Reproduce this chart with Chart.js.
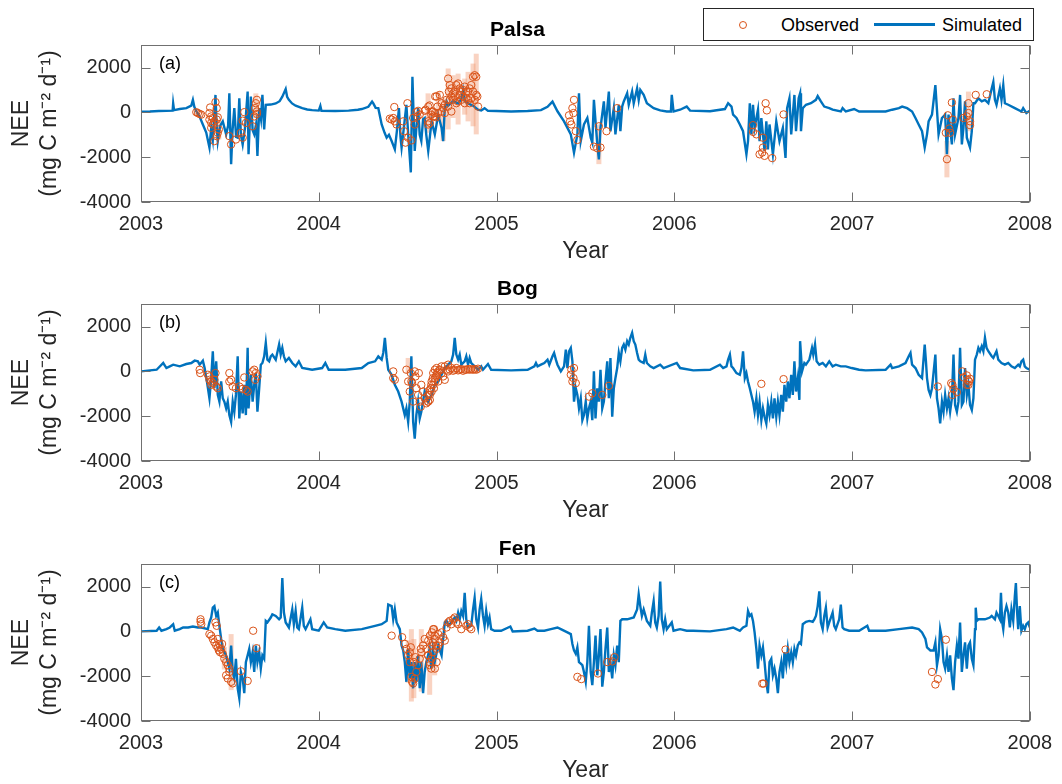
<!DOCTYPE html>
<html>
<head>
<meta charset="utf-8">
<script src="https://cdn.jsdelivr.net/npm/chart.js@4.4.1/dist/chart.umd.min.js"></script>
<style>
html,body{margin:0;padding:0;background:#fff;overflow:hidden;width:1062px;height:784px;}
canvas{position:absolute;left:0;}
#legend{position:absolute;left:703px;top:8px;width:329px;height:31px;border:1px solid #262626;background:#fff;z-index:5;
  font-family:"Liberation Sans",Arial,Helvetica,sans-serif;font-size:18px;color:#000;}
#legend span{position:absolute;top:5px;line-height:22px;}
#legend .mk{position:absolute;left:35px;top:12px;width:6px;height:6px;border:1px solid #D95319;border-radius:50%;}
#legend .ln{position:absolute;left:170px;top:14px;width:61px;height:2.5px;background:#0072BD;}
</style>
</head>
<body>
<canvas id="cA" width="1062" height="265" style="top:0px"></canvas>
<canvas id="cB" width="1062" height="265" style="top:259px"></canvas>
<canvas id="cC" width="1062" height="265" style="top:519px"></canvas>
<div id="legend"><div class="mk"></div><span style="left:77px">Observed</span><div class="ln"></div><span style="left:238px">Simulated</span></div>
<script>
// ---------- axes / labels ----------
const yearTicks = [2003, 2004, 2005, 2006, 2007, 2008];
const neeTicks = [-4000, -2000, 0, 2000];
const panelTitles = ['Palsa', 'Bog', 'Fen'];
const panelLetters = ['(a)', '(b)', '(c)'];

// ---------- Palsa ----------
const palsaSimulated = [[2003.000,30],[2003.050,40],[2003.100,60],[2003.143,70],[2003.178,80],[2003.181,400],[2003.186,100],[2003.218,150],[2003.255,190],[2003.283,300],[2003.292,560],[2003.300,250],[2003.311,50],[2003.330,-200],[2003.348,-540],[2003.367,-900],[2003.385,-1570],[2003.395,-700],[2003.404,-1200],[2003.419,780],[2003.425,-500],[2003.432,-1280],[2003.445,-600],[2003.460,-400],[2003.479,-980],[2003.490,-600],[2003.497,850],[2003.507,-2310],[2003.515,-800],[2003.525,190],[2003.535,-1100],[2003.544,-1130],[2003.553,630],[2003.562,-1000],[2003.572,-1430],[2003.585,-700],[2003.600,930],[2003.605,-1870],[2003.618,710],[2003.628,-800],[2003.637,-980],[2003.648,-500],[2003.655,-1940],[2003.665,190],[2003.675,-300],[2003.683,780],[2003.693,-760],[2003.702,340],[2003.730,350],[2003.758,400],[2003.780,500],[2003.795,700],[2003.814,1040],[2003.822,700],[2003.832,560],[2003.850,400],[2003.870,300],[2003.907,190],[2003.935,130],[2003.963,100],[2004.000,80],[2004.009,290],[2004.015,70],[2004.093,60],[2004.168,80],[2004.220,120],[2004.242,150],[2004.279,250],[2004.300,480],[2004.307,400],[2004.320,200],[2004.335,190],[2004.354,-540],[2004.370,-900],[2004.382,-1130],[2004.395,-1000],[2004.410,-1280],[2004.428,-1650],[2004.440,-800],[2004.451,190],[2004.460,-1100],[2004.466,-1570],[2004.480,-600],[2004.493,340],[2004.505,-1200],[2004.518,-2680],[2004.527,1590],[2004.535,-500],[2004.540,-1720],[2004.550,-600],[2004.559,190],[2004.568,-1000],[2004.577,-1280],[2004.587,-300],[2004.596,-250],[2004.605,-1000],[2004.616,-1720],[2004.635,-400],[2004.653,-980],[2004.672,-100],[2004.691,-690],[2004.700,-1280],[2004.709,190],[2004.719,490],[2004.728,300],[2004.756,500],[2004.784,400],[2004.802,600],[2004.812,1000],[2004.822,500],[2004.840,400],[2004.868,300],[2004.896,120],[2004.914,90],[2004.933,190],[2004.952,70],[2005.000,60],[2005.082,40],[2005.175,60],[2005.250,100],[2005.287,250],[2005.315,480],[2005.343,50],[2005.380,-400],[2005.399,-690],[2005.418,-980],[2005.436,-1800],[2005.455,-980],[2005.464,850],[2005.474,-1280],[2005.492,-540],[2005.511,-250],[2005.530,-1130],[2005.539,-1350],[2005.548,560],[2005.567,-1430],[2005.576,-2100],[2005.585,-690],[2005.604,490],[2005.613,-690],[2005.632,930],[2005.641,-840],[2005.660,190],[2005.669,-980],[2005.688,340],[2005.697,-840],[2005.707,260],[2005.716,490],[2005.735,850],[2005.744,340],[2005.763,930],[2005.772,410],[2005.791,1070],[2005.800,560],[2005.809,1000],[2005.828,780],[2005.846,410],[2005.884,190],[2005.921,90],[2005.958,40],[2005.981,40],[2005.986,780],[2005.996,40],[2006.033,120],[2006.070,260],[2006.089,80],[2006.201,50],[2006.285,150],[2006.303,410],[2006.322,260],[2006.331,-100],[2006.350,-250],[2006.369,-540],[2006.387,-840],[2006.406,-1870],[2006.415,-1280],[2006.425,410],[2006.434,-980],[2006.443,340],[2006.452,-690],[2006.471,120],[2006.480,-1280],[2006.490,-250],[2006.508,-1720],[2006.518,-400],[2006.527,-1650],[2006.536,-540],[2006.555,-1870],[2006.574,-400],[2006.592,-1280],[2006.611,-690],[2006.626,-2030],[2006.635,190],[2006.648,630],[2006.658,-980],[2006.667,-100],[2006.676,780],[2006.685,-840],[2006.700,630],[2006.708,850],[2006.713,-840],[2006.723,190],[2006.741,340],[2006.769,410],[2006.797,560],[2006.807,730],[2006.825,490],[2006.844,260],[2006.872,190],[2006.891,120],[2006.937,40],[2006.947,190],[2006.965,40],[2007.012,150],[2007.040,40],[2007.189,40],[2007.226,120],[2007.264,190],[2007.282,260],[2007.310,190],[2007.338,40],[2007.357,-250],[2007.375,-540],[2007.394,-840],[2007.409,-1570],[2007.422,-980],[2007.431,-400],[2007.450,-100],[2007.469,1220],[2007.487,-980],[2007.506,-250],[2007.524,-100],[2007.534,-1870],[2007.543,-100],[2007.562,-1430],[2007.571,630],[2007.580,-980],[2007.599,-250],[2007.608,780],[2007.618,-1430],[2007.627,-690],[2007.636,490],[2007.646,-1130],[2007.664,-1570],[2007.674,-840],[2007.683,410],[2007.692,410],[2007.711,630],[2007.730,490],[2007.748,560],[2007.767,410],[2007.786,1070],[2007.795,1360],[2007.804,560],[2007.813,340],[2007.832,1070],[2007.841,560],[2007.851,1220],[2007.860,410],[2007.879,340],[2007.916,190],[2007.953,40],[2007.963,190],[2007.981,-30],[2008.000,70]];
const palsaObserved = [[2003.311,10],[2003.320,-30],[2003.330,-70],[2003.339,-100],[2003.385,-30],[2003.395,-180],[2003.385,-320],[2003.395,-470],[2003.404,-250],[2003.413,-400],[2003.426,-320],[2003.432,-220],[2003.419,460],[2003.389,220],[2003.426,190],[2003.395,-690],[2003.404,-540],[2003.432,-910],[2003.438,-760],[2003.426,-1060],[2003.413,-1280],[2003.497,-1060],[2003.507,-1430],[2003.534,-1210],[2003.562,-910],[2003.572,-1130],[2003.581,10],[2003.572,-370],[2003.590,-470],[2003.628,-620],[2003.637,-180],[2003.642,190],[2003.646,410],[2003.652,560],[2003.652,-70],[2003.652,40],
[2004.400,-280],[2004.410,-320],[2004.419,-250],[2004.428,-400],[2004.425,240],[2004.438,-540],[2004.475,-400],[2004.480,-840],[2004.488,-1350],[2004.503,-1130],[2004.521,-1250],[2004.499,410],[2004.531,-250],[2004.540,-540],[2004.549,10],[2004.555,-180],[2004.559,70],[2004.568,-100],[2004.596,70],[2004.601,120],[2004.615,-540],[2004.615,-400],[2004.624,310],[2004.633,-100],[2004.642,40],[2004.652,-180],[2004.655,710],[2004.661,-220],
[2004.616,260],[2004.625,-470],[2004.635,40],[2004.644,-180],[2004.653,-30],[2004.663,710],[2004.668,260],[2004.681,780],[2004.691,410],[2004.700,190],[2004.709,340],[2004.719,560],[2004.728,1510],[2004.732,930],[2004.737,1220],[2004.746,1070],[2004.746,710],[2004.756,560],[2004.765,930],[2004.774,1220],[2004.784,1290],[2004.793,780],[2004.802,930],[2004.802,560],[2004.812,1000],[2004.821,1150],[2004.830,630],[2004.840,930],[2004.849,1070],[2004.849,410],[2004.858,1220],[2004.868,1590],[2004.877,1660],[2004.886,1590],[2004.892,710],[2004.896,260],[2004.877,560],[2004.858,630],[2004.821,410],[2004.784,490],[2004.746,40],[2004.728,260],[2004.709,-30],[2004.765,710],[2004.793,1070],[2004.812,710],[2004.830,930],[2004.840,560],[2004.868,930],[2004.886,780],[2004.774,410],[2004.737,560],[2004.756,850],[2004.691,40],[2004.672,-30],
[2005.408,-130],[2005.414,-400],[2005.421,-540],[2005.427,190],[2005.436,560],[2005.433,-30],[2005.446,-840],[2005.455,-1230],[2005.548,-1530],[2005.567,-1600],[2005.585,-1570],[2005.576,-620],[2005.619,-840],[2005.679,190],
[2006.443,-570],[2006.443,-870],[2006.462,-980],[2006.499,-1130],[2006.514,410],[2006.521,90],[2006.499,-1570],[2006.480,-1870],[2006.495,-1790],[2006.508,-1940],[2006.551,-2040],[2006.615,-90],
[2007.534,-2090],[2007.528,-910],[2007.539,-130],[2007.547,-720],[2007.552,-910],[2007.562,440],[2007.567,-320],[2007.627,-250],[2007.646,-180],[2007.655,410],[2007.655,-30],[2007.664,-400],[2007.664,-570],[2007.696,780],[2007.758,810]];
// [year, upper, lower] of the observation spread
const palsaSpread = [[2003.646,850,-250],[2003.438,-320,-1210],[2004.615,850,-910],[2004.672,930,-400],[2004.700,630,-1280],[2004.728,1960,-760],[2004.756,1660,-250],[2004.784,1730,-540],[2004.821,1510,-100],[2004.840,1810,-400],[2004.868,2180,-620],[2004.886,2620,-980],[2005.576,-540,-2310],[2007.534,-1280,-2900],[2007.655,930,-840]];

// ---------- Bog ----------
const bogSimulated = [[2003.000,0],[2003.088,75],[2003.125,375],[2003.143,150],[2003.162,225],[2003.181,300],[2003.218,225],[2003.255,330],[2003.283,375],[2003.302,480],[2003.320,450],[2003.330,300],[2003.348,480],[2003.358,150],[2003.371,-450],[2003.385,-1200],[2003.395,-300],[2003.404,900],[2003.413,-750],[2003.423,450],[2003.432,-1050],[2003.441,-1350],[2003.451,-450],[2003.460,-1200],[2003.469,-1350],[2003.479,-1650],[2003.488,-1350],[2003.497,-1950],[2003.507,-2250],[2003.516,-1350],[2003.525,-1800],[2003.534,-1050],[2003.544,675],[2003.553,-2100],[2003.562,-900],[2003.572,-1875],[2003.581,-600],[2003.590,-1950],[2003.600,1050],[2003.605,-1650],[2003.618,-150],[2003.628,-1350],[2003.637,-600],[2003.646,-75],[2003.655,-1800],[2003.665,-750],[2003.674,300],[2003.683,375],[2003.693,675],[2003.702,1275],[2003.711,525],[2003.721,450],[2003.730,675],[2003.739,750],[2003.758,525],[2003.777,1200],[2003.786,750],[2003.795,1050],[2003.804,675],[2003.814,450],[2003.832,600],[2003.851,375],[2003.870,225],[2003.888,450],[2003.907,150],[2003.963,75],[2004.019,150],[2004.037,375],[2004.056,75],[2004.149,75],[2004.242,150],[2004.279,375],[2004.317,450],[2004.335,675],[2004.354,525],[2004.363,825],[2004.372,1500],[2004.382,600],[2004.391,75],[2004.410,-150],[2004.428,-600],[2004.447,-900],[2004.466,-1350],[2004.484,-1950],[2004.493,-1650],[2004.503,-2250],[2004.512,-1350],[2004.521,675],[2004.531,-2250],[2004.540,-3000],[2004.549,-1950],[2004.559,-1350],[2004.568,-2100],[2004.577,-1800],[2004.596,-900],[2004.615,-1350],[2004.635,-1050],[2004.653,-600],[2004.672,-450],[2004.691,-150],[2004.709,150],[2004.728,300],[2004.746,450],[2004.756,750],[2004.765,1500],[2004.774,750],[2004.784,525],[2004.793,750],[2004.802,300],[2004.821,450],[2004.830,675],[2004.840,300],[2004.849,600],[2004.858,375],[2004.877,225],[2004.896,75],[2004.914,225],[2004.924,75],[2004.952,330],[2004.970,75],[2005.082,45],[2005.175,75],[2005.213,225],[2005.222,375],[2005.231,225],[2005.250,300],[2005.269,375],[2005.287,525],[2005.297,300],[2005.315,675],[2005.324,825],[2005.334,525],[2005.343,300],[2005.362,0],[2005.380,225],[2005.390,975],[2005.399,150],[2005.408,900],[2005.418,1050],[2005.427,450],[2005.436,-1350],[2005.446,-750],[2005.455,-1050],[2005.464,-1650],[2005.474,-1200],[2005.483,-2175],[2005.492,-1950],[2005.502,-1350],[2005.511,-2100],[2005.520,-1650],[2005.530,-1350],[2005.539,-2175],[2005.548,0],[2005.557,-2100],[2005.567,-750],[2005.576,-1350],[2005.585,75],[2005.595,-1650],[2005.604,-1350],[2005.613,-450],[2005.623,450],[2005.632,-1200],[2005.641,600],[2005.651,-2025],[2005.660,-750],[2005.669,-300],[2005.679,150],[2005.688,825],[2005.697,450],[2005.707,1050],[2005.716,1200],[2005.725,975],[2005.735,1350],[2005.744,1200],[2005.753,1500],[2005.763,1725],[2005.772,1350],[2005.781,1200],[2005.791,825],[2005.800,525],[2005.809,450],[2005.828,375],[2005.837,750],[2005.846,375],[2005.865,225],[2005.884,150],[2005.921,300],[2005.940,150],[2006.014,375],[2006.033,150],[2006.107,45],[2006.201,75],[2006.257,300],[2006.275,150],[2006.294,225],[2006.303,525],[2006.313,750],[2006.322,225],[2006.331,150],[2006.350,-75],[2006.369,-150],[2006.378,150],[2006.387,900],[2006.397,-300],[2006.406,-75],[2006.415,-450],[2006.425,-750],[2006.434,-1050],[2006.443,-1350],[2006.452,-1800],[2006.462,-1200],[2006.471,-1950],[2006.480,-1350],[2006.490,-2175],[2006.499,-1650],[2006.508,-2025],[2006.518,-2325],[2006.527,-1500],[2006.536,-1950],[2006.546,-1350],[2006.555,-2100],[2006.564,-1200],[2006.574,-2025],[2006.583,-1350],[2006.592,-1950],[2006.602,-1050],[2006.611,-1800],[2006.620,-600],[2006.630,-1350],[2006.639,-450],[2006.648,-1200],[2006.658,-150],[2006.667,-1050],[2006.676,450],[2006.685,-900],[2006.695,-300],[2006.704,-1275],[2006.708,1350],[2006.719,0],[2006.732,375],[2006.741,300],[2006.760,525],[2006.775,1050],[2006.782,750],[2006.792,1200],[2006.801,450],[2006.816,300],[2006.835,375],[2006.853,225],[2006.872,450],[2006.891,225],[2006.909,300],[2006.937,225],[2006.965,225],[2006.998,150],[2007.040,75],[2007.077,45],[2007.189,75],[2007.217,300],[2007.226,150],[2007.264,225],[2007.301,375],[2007.319,675],[2007.329,825],[2007.338,300],[2007.357,150],[2007.375,-150],[2007.394,-300],[2007.409,1200],[2007.416,450],[2007.422,-300],[2007.431,-825],[2007.441,-1050],[2007.450,-750],[2007.469,750],[2007.478,-1200],[2007.487,-1650],[2007.496,-2325],[2007.506,-1350],[2007.515,-1800],[2007.524,-1050],[2007.534,-1650],[2007.543,-1200],[2007.552,-1800],[2007.562,-1200],[2007.571,750],[2007.580,-1500],[2007.590,-1800],[2007.599,-1350],[2007.608,1050],[2007.618,-1500],[2007.627,-1350],[2007.636,150],[2007.646,-1050],[2007.655,-600],[2007.664,-1500],[2007.674,-1725],[2007.683,-1200],[2007.692,525],[2007.702,750],[2007.711,1050],[2007.720,900],[2007.730,1125],[2007.739,900],[2007.748,1500],[2007.757,1050],[2007.767,900],[2007.786,675],[2007.795,600],[2007.804,750],[2007.813,900],[2007.823,525],[2007.841,375],[2007.860,300],[2007.879,375],[2007.897,225],[2007.916,150],[2007.935,300],[2007.944,225],[2007.953,450],[2007.963,525],[2007.972,225],[2007.981,150],[2008.000,75]];
const bogObserved = [[2003.330,75],[2003.333,-75],[2003.376,-150],[2003.385,-225],[2003.385,-375],[2003.395,-450],[2003.404,-525],[2003.413,-375],[2003.419,-75],[2003.423,-675],[2003.432,-750],[2003.395,-600],[2003.497,-75],[2003.507,-375],[2003.497,-450],[2003.516,-675],[2003.534,-750],[2003.553,-675],[2003.572,-780],[2003.581,-270],[2003.590,-825],[2003.600,-900],[2003.628,0],[2003.637,75],[2003.646,-75],[2003.655,-225],[2003.642,-375],
[2004.419,0],[2004.419,-300],[2004.428,-375],[2004.493,75],[2004.503,-450],[2004.512,-900],[2004.518,-75],[2004.525,-525],[2004.531,-1350],[2004.540,0],[2004.544,-225],[2004.549,-750],[2004.559,-1050],[2004.568,-1350],[2004.574,-1575],[2004.577,-600],[2004.587,-900],[2004.596,-1200],[2004.605,-1425],[2004.615,-1050],[2004.615,-1350],[2004.624,-825],[2004.633,-600],[2004.642,-300],[2004.648,-750],[2004.655,-450],[2004.661,-225],[2004.666,-75],[2004.521,-450],[2004.563,-75],
[2004.616,-1350],[2004.625,-1050],[2004.631,-750],[2004.635,-450],[2004.644,-75],[2004.644,-600],[2004.653,-300],[2004.653,75],[2004.663,-150],[2004.672,0],[2004.672,-450],[2004.681,75],[2004.691,-75],[2004.700,-225],[2004.709,-375],[2004.719,75],[2004.728,300],[2004.728,0],[2004.737,75],[2004.746,150],[2004.756,30],[2004.765,75],[2004.774,150],[2004.784,45],[2004.793,75],[2004.802,105],[2004.812,30],[2004.821,75],[2004.830,75],[2004.840,105],[2004.849,75],[2004.858,105],[2004.868,75],[2004.877,105],[2004.886,75],[2004.896,120],[2004.635,-900],[2004.625,-1275],[2004.691,225],[2004.663,150],[2004.709,225],
[2005.418,-150],[2005.427,-450],[2005.436,150],[2005.446,-525],[2005.421,75],[2005.433,-300],[2005.520,-1125],[2005.539,-975],[2005.595,-1050],[2005.632,-645],
[2006.490,-555],[2006.615,-345],
[2007.483,-675],[2007.558,-525],[2007.565,-600],[2007.571,-780],[2007.565,-1050],[2007.590,-930],[2007.621,0],[2007.627,-270],[2007.646,-180],[2007.651,-375],[2007.659,-450],[2007.655,-600],[2007.664,-330],[2007.646,-600]];
const bogSpread = [[2004.503,600,-75],[2003.404,100,-300]];

// ---------- Fen ----------
const fenSimulated = [[2003.000,0],[2003.088,30],[2003.102,175],[2003.115,30],[2003.143,100],[2003.162,175],[2003.181,320],[2003.190,30],[2003.218,100],[2003.237,175],[2003.265,175],[2003.292,220],[2003.320,175],[2003.339,175],[2003.376,100],[2003.385,400],[2003.395,620],[2003.404,1060],[2003.413,1130],[2003.423,690],[2003.432,840],[2003.441,250],[2003.451,-340],[2003.460,-780],[2003.479,-1070],[2003.488,-1370],[2003.497,-1660],[2003.507,-630],[2003.516,-1810],[2003.525,-2100],[2003.534,-1220],[2003.544,-2540],[2003.553,-2980],[2003.562,-1810],[2003.572,-2100],[2003.581,-2760],[2003.590,-1370],[2003.600,-1070],[2003.609,-780],[2003.618,-1370],[2003.628,-930],[2003.637,-1810],[2003.646,-630],[2003.655,-1370],[2003.665,-930],[2003.674,-1660],[2003.683,-1070],[2003.693,-1220],[2003.702,470],[2003.711,400],[2003.730,620],[2003.739,760],[2003.758,690],[2003.777,540],[2003.786,620],[2003.795,2380],[2003.804,840],[2003.814,400],[2003.832,175],[2003.851,980],[2003.860,320],[2003.870,910],[2003.879,175],[2003.888,100],[2003.907,1060],[2003.916,250],[2003.926,100],[2003.953,540],[2003.963,100],[2004.000,30],[2004.028,400],[2004.047,175],[2004.093,100],[2004.149,30],[2004.242,100],[2004.317,250],[2004.354,320],[2004.382,470],[2004.391,1200],[2004.410,1130],[2004.419,540],[2004.428,980],[2004.438,400],[2004.456,100],[2004.466,-630],[2004.475,-850],[2004.484,-1370],[2004.493,-2250],[2004.503,-780],[2004.512,-2100],[2004.521,-1370],[2004.531,-2540],[2004.540,-1370],[2004.549,-2250],[2004.559,-1070],[2004.568,-2540],[2004.577,-1370],[2004.587,-2760],[2004.596,-1810],[2004.605,-1370],[2004.615,-1070],[2004.624,-780],[2004.633,-1660],[2004.642,-780],[2004.652,-1370],[2004.672,-630],[2004.691,-1070],[2004.709,400],[2004.719,470],[2004.728,250],[2004.746,400],[2004.765,620],[2004.774,470],[2004.784,840],[2004.793,540],[2004.802,910],[2004.812,690],[2004.821,1720],[2004.830,540],[2004.840,175],[2004.858,250],[2004.868,980],[2004.877,1500],[2004.886,540],[2004.896,175],[2004.905,980],[2004.914,1450],[2004.924,690],[2004.933,250],[2004.942,910],[2004.952,320],[2004.961,620],[2004.970,100],[2004.989,30],[2005.026,30],[2005.078,220],[2005.091,0],[2005.175,30],[2005.213,130],[2005.231,30],[2005.269,30],[2005.306,100],[2005.343,175],[2005.362,100],[2005.399,-45],[2005.418,-120],[2005.427,-560],[2005.436,-850],[2005.446,-1000],[2005.455,-710],[2005.464,-1370],[2005.474,-1440],[2005.483,-1510],[2005.492,-1810],[2005.502,-2250],[2005.511,-1370],[2005.520,250],[2005.530,-1810],[2005.539,-2400],[2005.548,-1370],[2005.557,-190],[2005.567,-1960],[2005.576,-1070],[2005.585,100],[2005.595,-2470],[2005.604,-1810],[2005.613,-780],[2005.623,175],[2005.632,-1810],[2005.641,-1370],[2005.651,-2100],[2005.660,-1070],[2005.669,-1510],[2005.679,-630],[2005.688,-1370],[2005.697,470],[2005.707,540],[2005.716,540],[2005.735,540],[2005.772,620],[2005.791,980],[2005.800,1650],[2005.809,1130],[2005.818,690],[2005.828,980],[2005.846,470],[2005.865,250],[2005.874,840],[2005.884,1350],[2005.893,400],[2005.902,175],[2005.912,690],[2005.921,2230],[2005.930,540],[2005.940,100],[2005.949,540],[2005.958,100],[2005.986,400],[2005.996,30],[2006.033,100],[2006.070,30],[2006.107,30],[2006.201,0],[2006.294,100],[2006.331,175],[2006.350,100],[2006.369,30],[2006.387,175],[2006.406,250],[2006.415,910],[2006.425,690],[2006.434,760],[2006.443,470],[2006.452,-45],[2006.462,-780],[2006.471,-1660],[2006.480,-630],[2006.490,-1070],[2006.499,-710],[2006.508,-1370],[2006.518,-2250],[2006.527,-2760],[2006.536,-1370],[2006.546,-1220],[2006.555,-1960],[2006.564,-1660],[2006.574,-2100],[2006.583,-2760],[2006.592,-1810],[2006.602,-1370],[2006.611,-2100],[2006.620,-930],[2006.630,-1510],[2006.639,-780],[2006.648,-1370],[2006.658,-930],[2006.667,-1370],[2006.676,-780],[2006.685,-1070],[2006.695,-630],[2006.704,-490],[2006.713,-560],[2006.723,320],[2006.741,430],[2006.760,470],[2006.779,430],[2006.788,540],[2006.797,690],[2006.807,1130],[2006.816,1790],[2006.825,400],[2006.835,100],[2006.844,690],[2006.853,1060],[2006.863,175],[2006.872,400],[2006.891,840],[2006.900,250],[2006.909,100],[2006.928,540],[2006.937,1200],[2006.947,175],[2006.956,100],[2006.984,30],[2007.040,30],[2007.086,250],[2007.096,30],[2007.189,30],[2007.264,100],[2007.338,175],[2007.375,100],[2007.394,-45],[2007.413,-340],[2007.422,-710],[2007.441,-850],[2007.459,-850],[2007.469,-490],[2007.478,-1510],[2007.487,-1070],[2007.496,100],[2007.506,-340],[2007.515,-1370],[2007.524,-1660],[2007.534,-1070],[2007.543,-1810],[2007.552,-1070],[2007.562,-2100],[2007.571,-2620],[2007.580,-1370],[2007.590,-630],[2007.599,-1220],[2007.608,400],[2007.618,-1810],[2007.627,-1070],[2007.636,-490],[2007.646,-1660],[2007.655,-630],[2007.664,-490],[2007.674,-1220],[2007.683,-1510],[2007.692,100],[2007.696,1060],[2007.702,470],[2007.711,540],[2007.748,540],[2007.776,620],[2007.786,690],[2007.804,540],[2007.813,840],[2007.823,690],[2007.832,540],[2007.838,1720],[2007.845,400],[2007.851,100],[2007.860,840],[2007.869,1130],[2007.879,840],[2007.888,175],[2007.897,980],[2007.907,470],[2007.916,1570],[2007.922,2160],[2007.929,840],[2007.935,100],[2007.944,1130],[2007.953,30],[2007.963,250],[2007.972,100],[2007.981,320],[2007.991,400],[2008.000,175]];
const fenObserved = [[2003.335,540],[2003.335,430],[2003.339,320],[2003.385,-120],[2003.395,-190],[2003.404,-340],[2003.419,400],[2003.426,250],[2003.413,-490],[2003.423,-630],[2003.432,-710],[2003.438,-850],[2003.441,-560],[2003.451,-780],[2003.445,-930],[2003.460,-1000],[2003.469,-1220],[2003.479,-1370],[2003.488,-1510],[2003.497,-1660],[2003.479,-1960],[2003.488,-2100],[2003.507,-2250],[2003.516,-2320],[2003.497,-1810],[2003.562,-1780],[2003.600,-2210],[2003.631,30],[2003.650,-750],[2003.432,-340],[2003.456,-560],
[2004.410,-190],[2004.469,-260],[2004.484,-560],[2004.493,-780],[2004.503,-1070],[2004.512,-1370],[2004.521,-2030],[2004.525,-2250],[2004.531,-2320],[2004.540,-2100],[2004.549,-1810],[2004.559,-1510],[2004.568,-1220],[2004.577,-930],[2004.587,-630],[2004.596,-340],[2004.605,-780],[2004.615,-1070],[2004.624,-1370],[2004.633,-1660],[2004.642,-490],[2004.652,-190],[2004.661,-630],[2004.518,-710],[2004.544,-1150],[2004.574,-780],[2004.535,-1370],[2004.512,-930],[2004.637,-45],[2004.648,100],
[2004.616,-410],[2004.625,-190],[2004.635,-630],[2004.644,100],[2004.653,-340],[2004.663,-780],[2004.672,-120],[2004.681,-490],[2004.691,-45],[2004.700,-260],[2004.709,-410],[2004.719,175],[2004.728,400],[2004.737,470],[2004.746,320],[2004.756,540],[2004.765,620],[2004.774,400],[2004.784,320],[2004.802,100],[2004.830,250],[2004.840,320],[2004.849,175],[2004.858,100],[2004.635,-1220],[2004.625,-1510],[2004.653,-1660],[2004.616,-1070],[2004.644,-930],[2004.672,-630],[2004.663,-1370],
[2005.455,-2030],[2005.477,-2130],[2005.571,-1880],[2005.623,-1370],[2005.651,-1340],[2005.664,-1150],
[2006.495,-2330],[2006.503,-2330],[2006.626,-810],
[2007.450,-1810],[2007.483,-2130],[2007.469,-2370],[2007.528,-370]];
const fenSpread = [[2003.507,-120,-2620],[2003.469,-700,-1700],[2004.521,100,-3130],[2004.535,-340,-2980],[2004.503,-400,-2300],[2004.577,100,-2690],[2004.624,-45,-2830],[2004.652,250,-1960]];

// ---------- drawing ----------
Chart.defaults.font.family = '"Liberation Sans", Arial, Helvetica, sans-serif';
const FRAME = '#707070';
const TXT = '#262626';

const framePlugin = {
  id: 'frame',
  beforeDatasetsDraw(chart, args, o) {
    const {ctx, chartArea: a, scales: {x, y}} = chart;
    ctx.save();
    ctx.beginPath(); ctx.rect(a.left, a.top, a.right - a.left, a.bottom - a.top); ctx.clip();
    ctx.fillStyle = 'rgba(240,150,110,0.42)';
    for (const [yr, hi, lo] of o.spread) {
      const px = x.getPixelForValue(yr);
      const t = y.getPixelForValue(hi), b = y.getPixelForValue(lo);
      ctx.fillRect(px - 2.5, t, 5, b - t);
    }
    ctx.restore();
  },
  afterDraw(chart, args, o) {
    const {ctx, chartArea: a, scales: {x, y}} = chart;
    ctx.save();
    ctx.strokeStyle = FRAME; ctx.lineWidth = 1;
    const L = Math.round(a.left) + 0.5, R = Math.round(a.right) - 0.5;
    const T = Math.round(a.top) + 0.5, B = Math.round(a.bottom) - 0.5;
    ctx.strokeRect(L, T, R - L, B - T);
    ctx.beginPath();
    yearTicks.forEach(v => {
      const px = Math.round(x.getPixelForValue(v)) + 0.5;
      ctx.moveTo(px, T); ctx.lineTo(px, T + 9);
      ctx.moveTo(px, B); ctx.lineTo(px, B - 9);
    });
    neeTicks.forEach(v => {
      const py = Math.round(y.getPixelForValue(v)) + 0.5;
      ctx.moveTo(L, py); ctx.lineTo(L + 9, py);
      ctx.moveTo(R, py); ctx.lineTo(R - 9, py);
    });
    ctx.stroke();
    ctx.fillStyle = '#000';
    ctx.font = '18px "Liberation Sans", Arial, sans-serif';
    ctx.textAlign = 'left'; ctx.textBaseline = 'middle';
    ctx.fillText(o.letter, a.left + 18, a.top + 19);
    ctx.restore();
  }
};

function toXY(arr) { return arr.map(p => ({x: p[0], y: p[1]})); }

function makePanel(id, idx, sim, obs, spread) {
  new Chart(document.getElementById(id), {
    type: 'scatter',
    data: {
      datasets: [
        { label: 'Observed', data: toXY(obs), showLine: false, pointStyle: 'circle',
          pointRadius: 3.7, pointBorderWidth: 1, borderColor: '#D95319', pointBorderColor: '#D95319',
          backgroundColor: 'rgba(0,0,0,0)', pointBackgroundColor: 'rgba(0,0,0,0)', order: 0 },
        { label: 'Simulated', data: toXY(sim), showLine: true, borderColor: '#0072BD',
          backgroundColor: '#0072BD', borderWidth: 2.4, pointRadius: 0, tension: 0, fill: false, order: 1 }
      ]
    },
    options: {
      responsive: false, animation: false, events: [],
      layout: { padding: { top: 18, right: 27, left: 0, bottom: 0 } },
      plugins: {
        legend: { display: false }, tooltip: { enabled: false },
        title: { display: true, text: panelTitles[idx], color: '#000',
          font: { size: 21, weight: 'bold' }, padding: { top: 0, bottom: 2 } },
        frame: { letter: panelLetters[idx], spread: spread }
      },
      scales: {
        x: {
          type: 'linear', min: 2003, max: 2008,
          afterBuildTicks: s => { s.ticks = yearTicks.map(v => ({value: v})); },
          afterFit: s => { s.height = 63; },
          grid: { display: false, drawTicks: false }, border: { display: false },
          ticks: { padding: 10, color: TXT, font: { size: 20 }, maxRotation: 0, autoSkip: false,
            callback: v => String(v) },
          title: { display: true, text: 'Year', color: TXT, font: { size: 23 }, padding: { top: 0, bottom: 0 } }
        },
        y: {
          type: 'linear', min: -4000, max: 3000,
          afterBuildTicks: s => { s.ticks = neeTicks.map(v => ({value: v})); },
          afterFit: s => { s.width = 141; },
          grid: { display: false, drawTicks: false }, border: { display: false },
          ticks: { padding: 10, color: TXT, font: { size: 20 }, callback: v => String(v) },
          title: { display: true, text: ['NEE', '(mg C m\u207B\u00B2 d\u207B\u00B9)'], color: TXT,
            font: { size: 23 }, padding: { top: 8, bottom: 0 } }
        }
      }
    },
    plugins: [framePlugin]
  });
}

makePanel('cA', 0, palsaSimulated, palsaObserved, palsaSpread);
makePanel('cB', 1, bogSimulated, bogObserved, bogSpread);
makePanel('cC', 2, fenSimulated, fenObserved, fenSpread);
</script>
</body>
</html>
